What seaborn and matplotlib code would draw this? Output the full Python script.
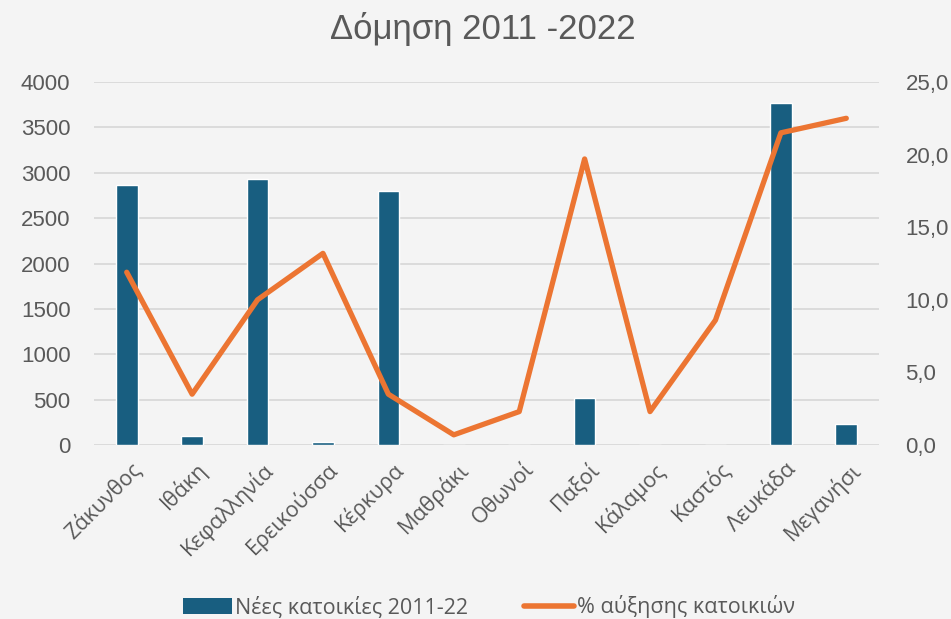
import matplotlib
matplotlib.use("Agg")
import matplotlib.pyplot as plt
import matplotlib.transforms as mtransforms
import seaborn as sns
import pandas as pd
from matplotlib.ticker import FuncFormatter, MultipleLocator
from matplotlib.lines import Line2D
from matplotlib.patches import Patch

categories = ["Ζάκυνθος", "Ιθάκη", "Κεφαλληνία", "Ερεικούσσα", "Κέρκυρα", "Μαθράκι",
              "Οθωνοί", "Παξοί", "Κάλαμος", "Καστός", "Λευκάδα", "Μεγανήσι"]
new_homes = [2860, 100, 2930, 33, 2800, 0, 4, 515, 4, 4, 3765, 228]
pct_increase = [11.9, 3.5, 10.0, 13.2, 3.5, 0.7, 2.3, 19.7, 2.3, 8.6, 21.5, 22.5]

title = "Δόμηση 2011 -2022"
bar_label = "Νέες κατοικίες 2011-22"
line_label = "% αύξησης κατοικιών"

df = pd.DataFrame({"island": categories, "homes": new_homes, "pct": pct_increase})

sns.set_theme(style="white")
plt.rcParams["font.family"] = ["Liberation Sans", "DejaVu Sans"]

BAR = "#185e80"
ORANGE = "#ec7532"
TXT = "#595959"
GRID = "#d9d9d9"
BG = "#f4f4f4"

fig = plt.figure(figsize=(9.51, 6.19), dpi=100, facecolor=BG)
ax = fig.add_axes([94/951, 1-445/619, (879-94)/951, (445-82)/619])
ax.set_facecolor("none")

sns.barplot(data=df, x="island", y="homes", color=BAR, width=0.33, ax=ax, saturation=1, zorder=2)
ax.set_ylim(0, 4000)
ax.yaxis.set_major_locator(MultipleLocator(500))
ax.grid(axis="y", color=GRID, linewidth=1.3, zorder=0)
ax.set_axisbelow(True)
for s in ax.spines.values():
    s.set_visible(False)
ax.set_xlabel("")
ax.set_ylabel("")
ax.tick_params(axis="y", length=0, pad=17, labelsize=16, labelcolor=TXT)
ax.tick_params(axis="x", length=0, pad=11, labelcolor=TXT)
ax.set_xticks(range(len(categories)))
ax.set_xticklabels(categories, rotation=45, ha="right", va="center", rotation_mode="anchor",
                   fontsize=15.5, family=["Open Sans", "DejaVu Sans"])
offset = mtransforms.ScaledTranslation(12/100, -6/100, fig.dpi_scale_trans)
for lbl in ax.get_xticklabels():
    lbl.set_transform(lbl.get_transform() + offset)

ax2 = ax.twinx()
sns.lineplot(data=df, x="island", y="pct", color=ORANGE, linewidth=3.8, sort=False, ax=ax2, zorder=3)
ax2.set_ylim(0, 25)
ax2.yaxis.set_major_locator(MultipleLocator(5))
ax2.yaxis.set_major_formatter(FuncFormatter(lambda v, p: f"{v:.1f}".replace(".", ",")))
for s in ax2.spines.values():
    s.set_visible(False)
ax2.set_xlabel("")
ax2.set_ylabel("")
ax2.tick_params(axis="y", length=0, pad=19, labelsize=16, labelcolor=TXT)
ax2.grid(False)
ax.set_xlim(-0.5, len(categories) - 0.5)

fig.text(0.508, 1-29/619, title, ha="center", va="center", fontsize=25, color=TXT)

handles = [Patch(facecolor=BAR, edgecolor="none"),
           Line2D([0], [0], color=ORANGE, linewidth=4)]
leg = fig.legend(handles, [bar_label, line_label], loc="center", bbox_to_anchor=(0.514, 1-607/619),
                 ncol=2, frameon=False, handlelength=2.3, handletextpad=0.15,
                 columnspacing=2.6, prop={"family": ["Open Sans", "DejaVu Sans"], "size": 15.5})
for t in leg.get_texts():
    t.set_color(TXT)

fig.savefig("out.png", dpi=100, facecolor=BG)
